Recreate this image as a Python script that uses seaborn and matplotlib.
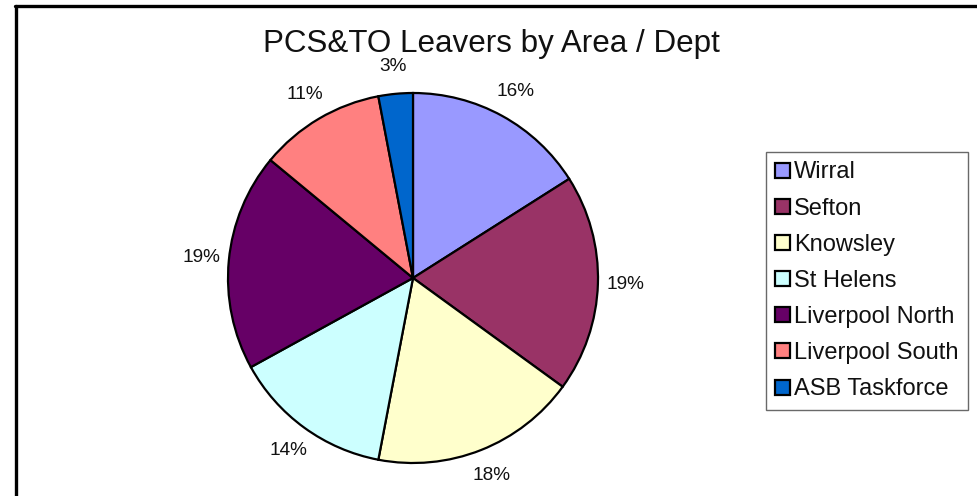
import matplotlib
matplotlib.use("Agg")
import matplotlib.pyplot as plt
from matplotlib.lines import Line2D
import seaborn as sns

# Leavers share by area / department (percent)
areas = ["Wirral", "Sefton", "Knowsley", "St Helens",
         "Liverpool North", "Liverpool South", "ASB Taskforce"]
shares = [16, 19, 18, 14, 19, 11, 3]
colors = ["#9999FF", "#993366", "#FFFFCC", "#CCFFFF",
          "#660066", "#FF8080", "#0066CC"]
title = "PCS&TO Leavers by Area / Dept"

sns.set_theme(style="white")
plt.rcParams["font.family"] = ["Liberation Sans", "DejaVu Sans"]

W, H = 978, 496
fig = plt.figure(figsize=(W / 100, H / 100), dpi=100)
fig.patch.set_facecolor("white")

# pie axes: centre (413, 278) px, radius ~185 px
cx, cy, r = 413, 278, 185
ax = fig.add_axes([(cx - r) / W, (H - cy - r) / H, 2 * r / W, 2 * r / H])
wedges, _, autotexts = ax.pie(
    shares,
    colors=colors,
    startangle=90,
    counterclock=False,
    autopct=lambda p: f"{p:.0f}%",
    pctdistance=1.15,
    wedgeprops=dict(edgecolor="black", linewidth=1.6),
    textprops=dict(fontsize=13.7, color="#111111"),
)
ax.set_xlim(-1, 1)
ax.set_ylim(-1, 1)
ax.set_aspect("equal")
ax.axis("off")

fig.text(0.502, 1 - 44 / H, title, ha="center", va="center",
         fontsize=22.6, color="#111111")

leg = fig.legend(
    wedges, areas,
    loc="upper left",
    bbox_to_anchor=(766 / W, 1 - 152 / H),
    bbox_transform=fig.transFigure,
    borderaxespad=0,
    fontsize=17,
    frameon=True,
    fancybox=False,
    edgecolor="#444444",
    handlelength=0.6,
    handleheight=0.6,
    handletextpad=0.2,
    labelspacing=0.6,
    borderpad=0.4,
)
leg.get_frame().set_linewidth(1.0)
for t in leg.get_texts():
    t.set_color("#111111")

# chart area border (top and left edges)
fig.add_artist(Line2D([15.5 / W, 1], [1 - 5.5 / H, 1 - 5.5 / H],
                      transform=fig.transFigure, color="black", linewidth=2.4))
fig.add_artist(Line2D([16 / W, 16 / W], [0, 1 - 5.5 / H],
                      transform=fig.transFigure, color="black", linewidth=2.4))

fig.savefig("out.png", dpi=100, facecolor="white")
